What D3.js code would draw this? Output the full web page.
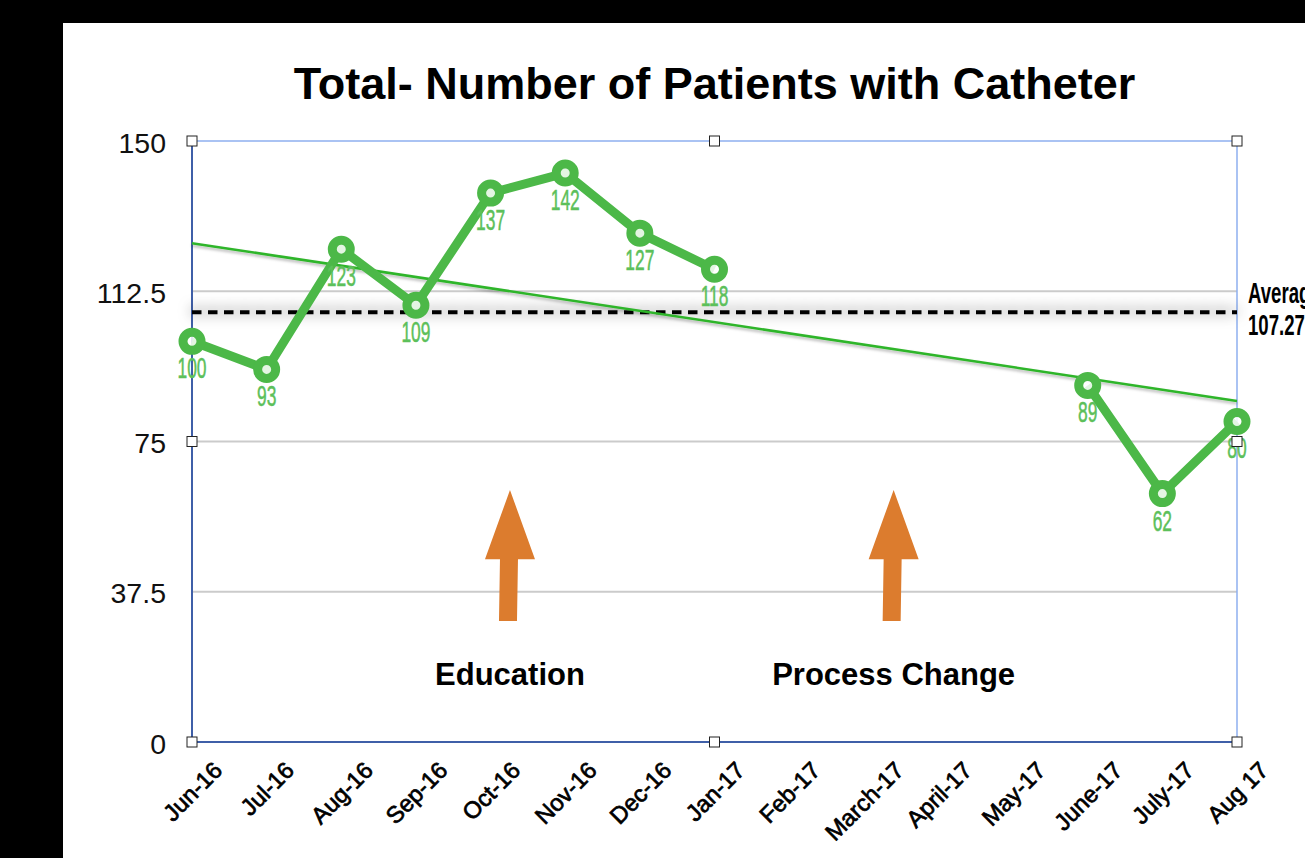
<!DOCTYPE html>
<html>
<head>
<meta charset="utf-8">
<script src="https://cdn.jsdelivr.net/npm/d3@7"></script>
<style>
  html, body { margin: 0; padding: 0; background: #000; overflow: hidden; }
  text { font-family: "Liberation Sans", Arial, sans-serif; }
</style>
</head>
<body>
<div id="chart"></div>
<script>
const months = ["Jun-16", "Jul-16", "Aug-16", "Sep-16", "Oct-16", "Nov-16", "Dec-16", "Jan-17",
  "Feb-17", "March-17", "April-17", "May-17", "June-17", "July-17", "Aug 17"];
const patients = [100, 93, 123, 109, 137, 142, 127, 118, null, null, null, null, 89, 62, 80];
const yTicks = [0, 37.5, 75, 112.5, 150];
const average = 107.27;
const trendEnds = [124.5, 85.1];
const notes = ["Education", "Process Change"];
const noteSlots = [4.26, 9.4];   // position along the month axis

const width = 1305;
const height = 858;
const margin = { top: 141, right: 68, bottom: 116, left: 192 };
const green = "#4cb848";

const svg = d3.select("#chart").append("svg")
  .attr("width", width)
  .attr("height", height)
  .style("display", "block");

// user space filters, a flat line has an empty bounding box
const defs = svg.append("defs");
defs.append("filter").attr("id", "soft")
  .attr("filterUnits", "userSpaceOnUse")
  .attr("x", 0).attr("y", 0).attr("width", width).attr("height", height)
  .append("feDropShadow")
  .attr("dx", 0).attr("dy", -1).attr("stdDeviation", 7)
  .attr("flood-color", "#000").attr("flood-opacity", 0.75);
defs.append("filter").attr("id", "thin")
  .attr("filterUnits", "userSpaceOnUse")
  .attr("x", 0).attr("y", 0).attr("width", width).attr("height", height)
  .append("feDropShadow")
  .attr("dx", 0).attr("dy", 2).attr("stdDeviation", 1.5)
  .attr("flood-color", "#000").attr("flood-opacity", 0.3);

// white page on the black screen
svg.append("rect")
  .attr("x", 63).attr("y", 23)
  .attr("width", width - 63).attr("height", height - 23)
  .attr("fill", "#fff");

const x = d3.scalePoint()
  .domain(months)
  .range([margin.left, width - margin.right]);
const slot = d3.scaleLinear()
  .domain([0, months.length - 1])
  .range(x.range());
const y = d3.scaleLinear()
  .domain([0, 150])
  .range([height - margin.bottom, margin.top]);

const [x0, x1] = x.range();
const [y0, y1] = y.range();

svg.append("text")
  .attr("x", 714.5).attr("y", 99)
  .attr("text-anchor", "middle")
  .attr("font-size", 45)
  .attr("font-weight", "bold")
  .text("Total- Number of Patients with Catheter");

// gridlines
svg.append("g").selectAll("line")
  .data(yTicks.filter(d => d > 0 && d < 150))
  .join("line")
  .attr("x1", x0).attr("x2", x1)
  .attr("y1", d => y(d)).attr("y2", d => y(d))
  .attr("stroke", "#cbcbcb")
  .attr("stroke-width", 2);

// selection frame
svg.append("path")
  .attr("d", `M${x0},${y1}H${x1}V${y0}`)
  .attr("fill", "none")
  .attr("stroke", "#8fb0f0")
  .attr("stroke-width", 1.5);
svg.append("path")
  .attr("d", `M${x0},${y1}V${y0}H${x1}`)
  .attr("fill", "none")
  .attr("stroke", "#3f5fa8")
  .attr("stroke-width", 2);

// average line
svg.append("line")
  .attr("x1", x0).attr("x2", x1)
  .attr("y1", y(average)).attr("y2", y(average))
  .attr("stroke", "#000")
  .attr("stroke-width", 4)
  .attr("stroke-dasharray", "9.5 6.5")
  .attr("filter", "url(#soft)");

// trend line
svg.append("line")
  .attr("x1", x0).attr("x2", x1)
  .attr("y1", y(trendEnds[0])).attr("y2", y(trendEnds[1]))
  .attr("stroke", "#2fb52a")
  .attr("stroke-width", 2.5)
  .attr("filter", "url(#thin)");

// series
const line = d3.line()
  .defined(d => d.value !== null)
  .x(d => x(d.month))
  .y(d => y(d.value));
const series = months.map((month, i) => ({ month, value: patients[i] }));
const present = series.filter(d => d.value !== null);

svg.append("path")
  .datum(series)
  .attr("d", line)
  .attr("fill", "none")
  .attr("stroke", green)
  .attr("stroke-width", 9)
  .attr("stroke-linejoin", "round");

// narrow labels: no condensed face installed, so squeeze the sans
svg.append("g").selectAll("text")
  .data(present)
  .join("text")
  .attr("transform", d => `translate(${x(d.month)},${y(d.value) + 37}) scale(0.6,1)`)
  .attr("text-anchor", "middle")
  .attr("font-size", 29)
  .attr("fill", "#5cc05a")
  .attr("stroke", "#5cc05a")
  .attr("stroke-width", 0.5)
  .text(d => d.value);

svg.append("g").selectAll("circle")
  .data(present)
  .join("circle")
  .attr("cx", d => x(d.month))
  .attr("cy", d => y(d.value))
  .attr("r", 9)
  .attr("fill", "#fff")
  .attr("fill-opacity", 0.85)
  .attr("stroke", green)
  .attr("stroke-width", 9);

// average label, runs off the right edge like the source
const avgLabel = svg.append("g").attr("font-weight", "bold").attr("font-size", 30);
["Average", String(average)].forEach((t, i) => {
  avgLabel.append("text")
    .attr("transform", `translate(1248,${303 + i * 32}) scale(0.62,1)`)
    .text(t);
});

// arrows and their captions
const arrow = d3.line();
svg.append("g").selectAll("path")
  .data(noteSlots)
  .join("path")
  .attr("d", d => {
    const c = slot(d);
    return arrow([
      [c, y(62.9)], [c + 25, y(45.6)], [c + 8, y(45.6)], [c + 7, y(30.2)],
      [c - 11, y(30.2)], [c - 10, y(45.6)], [c - 25, y(45.6)]
    ]) + "Z";
  })
  .attr("fill", "#dc7c2e");

svg.append("g").selectAll("text")
  .data(notes)
  .join("text")
  .attr("x", (d, i) => slot(noteSlots[i]))
  .attr("y", 685)
  .attr("text-anchor", "middle")
  .attr("font-size", 31)
  .attr("font-weight", "bold")
  .text(d => d);

// axes
const yAxis = svg.append("g")
  .attr("transform", `translate(${x0},0)`)
  .call(d3.axisLeft(y).tickValues(yTicks).tickSize(0).tickPadding(26).tickFormat(d => d));
yAxis.select(".domain").remove();
yAxis.selectAll("text")
  .attr("font-size", 28.5)
  .attr("font-family", "Liberation Sans")
  .attr("fill", "#111")
  .attr("transform", "translate(0,2)");

const xAxis = svg.append("g")
  .attr("transform", `translate(0,${y0})`)
  .call(d3.axisBottom(x).tickSize(0).tickPadding(0));
xAxis.select(".domain").remove();
xAxis.selectAll("text")
  .attr("font-size", 23.5)
  .attr("font-family", "Liberation Sans")
  .attr("fill", "#000")
  .attr("stroke", "#000")
  .attr("stroke-width", 0.7)
  .attr("text-anchor", "middle")
  .attr("dy", 0)
  .each(function () {
    // centred on the tick, tops of the labels level
    const half = this.getComputedTextLength() / 2 * Math.SQRT1_2;
    d3.select(this)
      .attr("y", 0)
      .attr("transform", `translate(0,${24 + half}) rotate(-45)`)
      .attr("dy", "0.35em");
  });

// resize handles
const handles = [];
[x0, (x0 + x1) / 2, x1].forEach(hx => {
  handles.push([hx, y1], [hx, y0]);
});
handles.push([x0, y(75)], [x1, y(75)]);
svg.append("g").selectAll("rect")
  .data(handles)
  .join("rect")
  .attr("x", d => d[0] - 5)
  .attr("y", d => d[1] - 5)
  .attr("width", 10)
  .attr("height", 10)
  .attr("fill", "#fff")
  .attr("stroke", "#222")
  .attr("stroke-width", 1);
</script>
</body>
</html>
